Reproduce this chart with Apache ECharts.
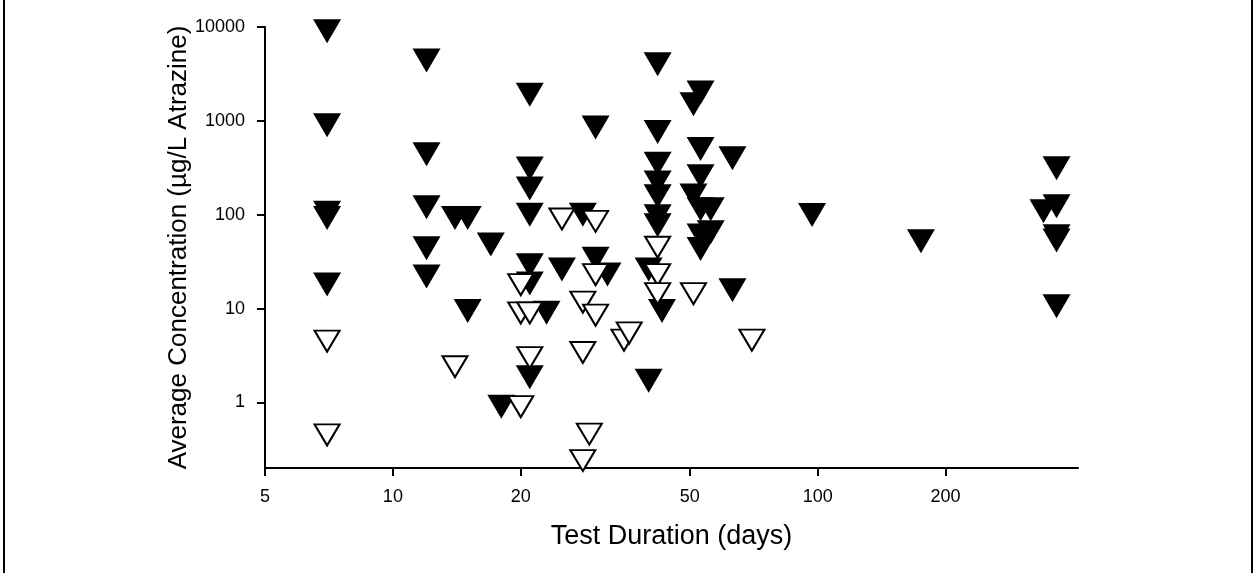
<!DOCTYPE html>
<html>
<head>
<meta charset="utf-8">
<script src="https://cdn.jsdelivr.net/npm/echarts@6/dist/echarts.min.js"></script>
<style>
  html, body { margin: 0; padding: 0; background: #fff; }
  #wrap { position: relative; width: 1254px; height: 576px; }
  #chart { width: 1254px; height: 576px; }
  #frame { position: absolute; left: 3px; top: -3px; width: 1246px; height: 576px;
           border-left: 2px solid #000; border-right: 2px solid #000; pointer-events: none; }
</style>
</head>
<body>
<div id="wrap">
  <div id="chart"></div>
  <div id="frame"></div>
</div>
<script>
// filled triangles: test duration (days) and average concentration
const solidDays = [
  7, 7, 7, 7, 7,
  12, 12, 12, 12, 12,
  14, 15, 15, 17, 18,
  21, 21, 21, 21, 21, 21, 21,
  23, 25, 28, 30, 30, 32, 40, 40,
  42, 42, 42, 42, 42, 42, 42,
  43, 51, 51,
  53, 53, 53, 53, 53, 53,
  56, 56, 63, 63, 97, 175,
  340, 365, 365, 365, 365, 365
]
const solidConc = [
  9000, 900, 105, 92, 18,
  4400, 440, 120, 44, 22,
  92, 92, 9.4, 48, 0.9,
  1900, 310, 190, 100, 29, 18.5, 1.85,
  9, 26, 100, 850, 34, 23, 26, 1.7,
  4000, 760, 350, 220, 157, 96, 77,
  9.4, 1500, 160,
  2000, 500, 257, 114, 60, 43,
  114, 65, 400, 15.7, 99, 52,
  109, 313, 123, 59, 53, 10.6
]

// open triangles
const openDays = [
  7, 7, 14, 20, 20, 20, 21, 21,
  25, 28, 28, 28, 29, 30, 30, 30,
  35, 36, 42, 42, 42, 51, 70
]
const openConc = [
  4.5, 0.45, 2.4, 18, 9, 0.9, 9, 3,
  90, 11.7, 3.4, 0.24, 0.46, 85, 23, 8.5,
  4.6, 5.5, 45, 23, 14.4, 14.4, 4.6
]

const xTicks = [5, 10, 20, 50, 100, 200]
const yTicks = [1, 10, 100, 1000, 10000]

const tri = 'path://M0,0L28,0L14,24Z'

function pairs(xs, ys) {
  return xs.map((x, i) => [x, ys[i]])
}

const chart = echarts.init(document.getElementById('chart'))

const option = {
  animation: false,
  backgroundColor: '#fff',
  textStyle: { fontFamily: 'Liberation Sans, Arial, sans-serif', color: '#000' },
  grid: { left: 265, right: 176, top: 27, bottom: 108, outerBoundsMode: 'none' },
  xAxis: {
    type: 'log',
    logBase: 10,
    min: 5,
    max: 410,
    name: 'Test Duration (days)',
    nameLocation: 'middle',
    nameGap: 55,
    nameMoveOverlap: false,
    nameTextStyle: { fontSize: 27, color: '#000' },
    splitLine: { show: false },
    axisLine: { lineStyle: { color: '#000', width: 2 } },
    axisTick: { show: true, length: 8, lineStyle: { color: '#000', width: 2 }, customValues: xTicks },
    minorTick: { show: false },
    axisLabel: { fontSize: 18, color: '#000', margin: 20, customValues: xTicks, formatter: v => String(v) }
  },
  yAxis: {
    type: 'log',
    logBase: 10,
    min: 0.2,
    max: 10000,
    name: 'Average Concentration (µg/L Atrazine)',
    nameLocation: 'middle',
    nameGap: 73,
    nameMoveOverlap: false,
    nameTextStyle: { fontSize: 26, color: '#000' },
    splitLine: { show: false },
    axisLine: { show: true, lineStyle: { color: '#000', width: 2 } },
    axisTick: { show: true, length: 8, lineStyle: { color: '#000', width: 2 }, customValues: yTicks },
    minorTick: { show: false },
    axisLabel: { fontSize: 18, color: '#000', margin: 20, customValues: yTicks, formatter: v => String(v) }
  },
  series: [
    {
      name: 'solid',
      type: 'scatter',
      symbol: tri,
      symbolSize: [28, 24],
      itemStyle: { color: '#000', opacity: 1 },
      data: pairs(solidDays, solidConc)
    },
    {
      name: 'open',
      type: 'scatter',
      symbol: tri,
      symbolSize: [25, 21],
      itemStyle: { color: '#fff', borderColor: '#000', borderWidth: 2, opacity: 1 },
      data: pairs(openDays, openConc)
    }
  ]
}

chart.setOption(option)
</script>
</body>
</html>
